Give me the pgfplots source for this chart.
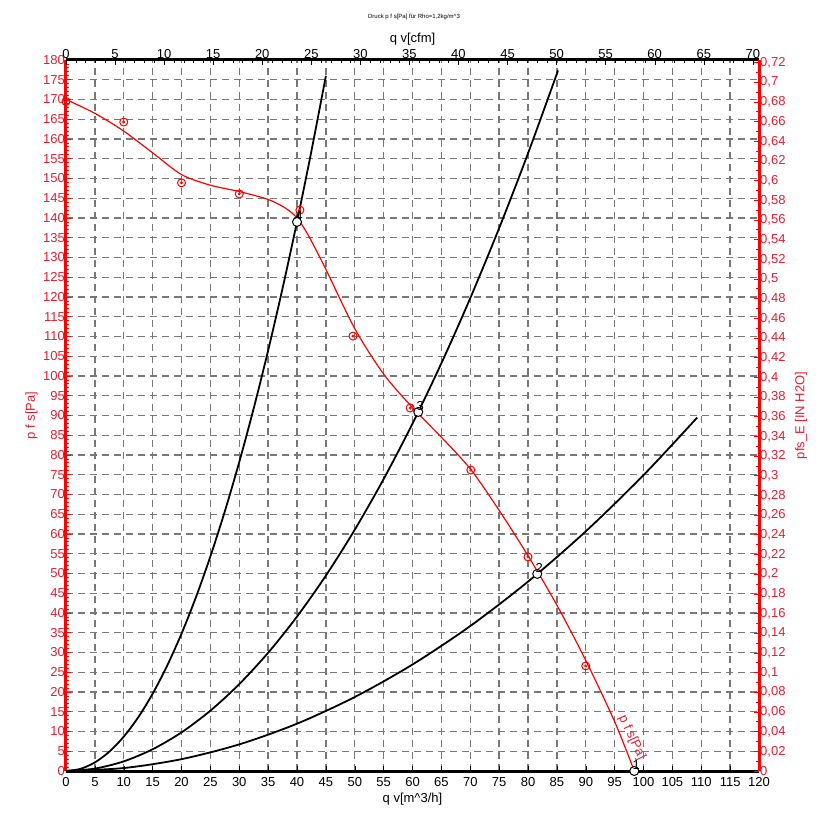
\documentclass[border=0pt]{standalone}
\usepackage{fontspec}
\setmainfont{Liberation Sans}
\usepackage{pgfplots}
\pgfplotsset{compat=1.18}
\definecolor{lbl}{RGB}{228,30,50}
\definecolor{grd}{RGB}{120,120,120}

\pgfplotsset{
  common/.style={
    at={(0,0)}, anchor=south west,
    scale only axis, width=693pt, height=711pt,
    /pgf/number format/assume math mode=true,
    tick label style={font=\fontsize{13}{13}\selectfont},
    label style={font=\fontsize{13}{13}\selectfont},
    tick align=inside,
    major tick length=5pt, minor tick length=3pt,
  },
}

\begin{document}
\begin{tikzpicture}[x=1pt,y=1pt]
\path[use as bounding box] (-66,-62) rectangle (767,771);
\node[font=\fontsize{6}{6}\selectfont] at (348,754) {Druck p f s[Pa] für Rho=1,2kg/m\textasciicircum 3};

% main axis: m^3/h and Pa
\begin{axis}[common,
  xmin=0, xmax=120, ymin=0, ymax=180,
  axis x line*=bottom, axis y line*=left,
  x axis line style={black, line width=3pt},
  y axis line style={red, line width=3pt},
  xtick distance=5, ytick distance=5,
  minor y tick num=4,
  every tick/.style={black},
  every y tick/.style={red, line width=0.8pt},
  xmajorgrids, ymajorgrids,
  major grid style={grd, line width=1.4pt, dash pattern=on 7pt off 5pt},
  yticklabel style={lbl, inner sep=0pt, xshift=-1pt},
  xticklabel style={inner sep=1pt, yshift=-5pt},
  xlabel={q v[m\textasciicircum 3/h]},
  ylabel={p f s[Pa]},
  ylabel style={lbl, yshift=2pt},
  xlabel style={yshift=-2pt},
]
% system curves
\addplot[black, line width=1.8pt, smooth] coordinates {
(0,0) (2.5,0.54) (5,2.17) (7.5,4.89) (10,8.69) (12.5,13.58) (15,19.55) (17.5,26.61)
(20,34.76) (22.5,43.99) (25,54.31) (27.5,65.72) (30,78.21) (32.5,91.79) (35,106.45)
(37.5,122.2) (40,139.04) (42.5,156.97) (45,175.97)
};
\addplot[black, line width=1.8pt, smooth] coordinates {
(0,0) (5,0.61) (10,2.44) (15,5.50) (20,9.77) (25,15.27) (30,21.99) (35,29.93)
(40,39.09) (45,49.47) (50,61.08) (55,73.90) (60,87.95) (65,103.22) (70,119.71)
(75,137.42) (80,156.35) (85.2,177.34)
};
\addplot[black, line width=1.8pt, smooth] coordinates {
(0,0) (10,0.75) (20,3.00) (30,6.74) (40,11.98) (50,18.73) (60,26.96) (70,36.70)
(80,47.94) (90,60.67) (100,74.90) (109.3,89.48)
};
% fan curve
\addplot[red, line width=1.2pt, smooth, tension=0.5] coordinates {
(0,170) (5,166.5) (10,162) (15,156.5) (20,151) (25,148.3) (30,146.7) (35,144.7)
(38,142.5) (40,140) (42,135.5) (45,127) (50,112) (55,100.5) (60,92) (65,84.5)
(70,76.5) (75,66) (80,54.5) (85,42) (90,28) (95,12.5) (98.4,0)
};
% measured points
\addplot[only marks, mark=o, mark size=4pt, red, line width=1pt] coordinates {
(0,169.5) (10,164.3) (20,148.9) (30,146.1) (40.5,142) (49.7,110.1) (59.6,91.9)
(70.1,76.2) (80,54.2) (90,26.6)
};
\addplot[only marks, mark=*, mark size=1.3pt, red] coordinates {
(0,169.5) (10,164.3) (20,148.9) (30,146.1) (40.5,142) (49.7,110.1) (59.6,91.9)
(70.1,76.2) (80,54.2) (90,26.6)
};
% operating points
\addplot[only marks, mark=*, mark size=4.5pt,
  mark options={fill=white, draw=black, line width=1pt},
  nodes near coords, point meta=explicit symbolic,
  nodes near coords style={anchor=south, black, inner sep=1pt, xshift=2pt,
    font=\fontsize{13}{13}\selectfont}]
  table[meta=l, row sep=\\] {
x y l\\
40 139 4\\
61 90.9 3\\
81.6 49.9 2\\
98.4 0 1\\
};
\node[lbl, rotate=-65, font=\fontsize{13}{13}\selectfont] at (axis cs:98.0,8.5) {p f s[Pa]};
\end{axis}

% secondary axis: cfm and inch H2O
\begin{axis}[common,
  xmin=0, xmax=70.63, ymin=0, ymax=0.72265,
  axis x line*=top, axis y line*=right,
  x axis line style={black, line width=3pt},
  y axis line style={red, line width=3pt},
  xtick distance=5, ytick distance=0.02,
  minor x tick num=4, minor y tick num=1,
  every tick/.style={black},
  every y tick/.style={red, line width=0.8pt},
  yticklabel style={lbl, inner sep=0pt, xshift=1pt,
    /pgf/number format/fixed, /pgf/number format/use comma},
  xticklabel style={inner sep=1pt},
  xlabel={q v[cfm]},
  ylabel={pfs\_E [IN H2O]},
  ylabel style={lbl, yshift=-6pt},
]
\addplot[draw=none] coordinates {(0,0)};
\end{axis}
\end{tikzpicture}
\end{document}
